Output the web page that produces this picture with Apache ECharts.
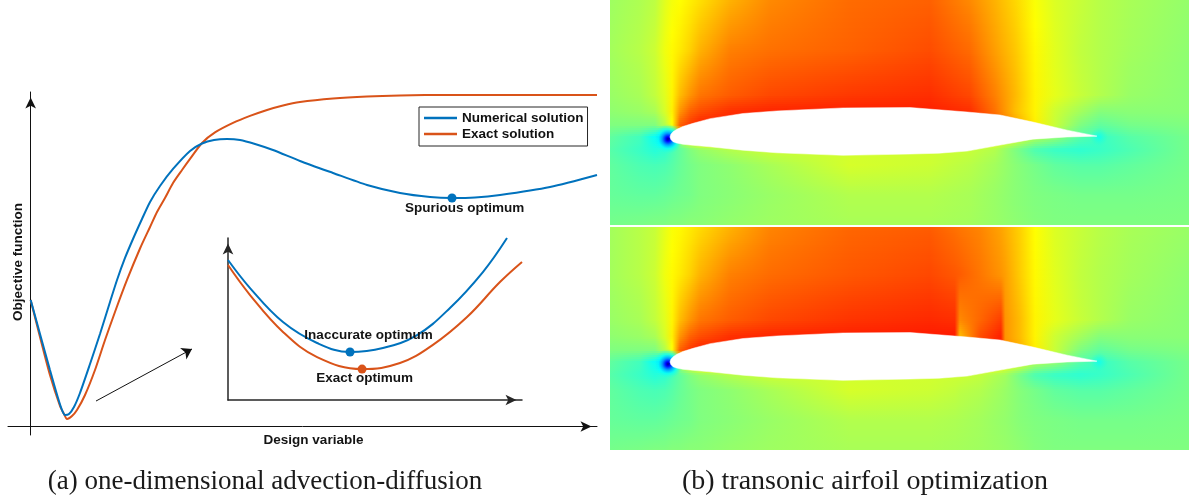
<!DOCTYPE html>
<html><head><meta charset="utf-8">
<script src="https://cdn.jsdelivr.net/npm/echarts@6/dist/echarts.min.js"></script>
<style>html,body{margin:0;padding:0;background:#fff}#c{width:1193px;height:500px}</style>
</head><body><div id="c"></div><script>
// ---------- (a) main curves (design variable vs objective) ----------
const numX = [0, 1.65, 3.41, 4.83, 5.54, 6.07, 6.77, 7.65, 8.71, 10.48, 12.24, 14.01, 15.25, 16.66, 18.07, 19.66, 21.08, 22.84, 25.14, 28.14, 30.26, 32.38, 34.67, 36.97, 39.62, 42.79, 47.56, 53.39, 59.39, 65.22, 70.52, 74.40, 78.46, 82.88, 91.71, 100];
const numY = [37.37, 27.33, 16.69, 8.42, 4.87, 3.40, 3.69, 5.76, 9.90, 18.46, 27.33, 36.78, 43.28, 49.78, 55.39, 61.30, 66.32, 71.05, 76.07, 81.39, 83.60, 84.64, 84.93, 84.64, 83.46, 81.68, 78.43, 74.89, 71.34, 68.98, 67.80, 67.50, 67.65, 68.39, 70.75, 74.30];
const exaX = [0, 1.65, 3.41, 5.18, 5.89, 6.42, 7.30, 8.18, 9.60, 11.36, 13.13, 14.89, 17.01, 19.31, 21.08, 22.31, 23.72, 25.14, 26.73, 28.14, 30.26, 32.55, 35.73, 38.73, 41.74, 44.56, 47.56, 53.39, 59.39, 65.22, 74.05, 82.88, 100];
const exaY = [37.37, 26.44, 15.21, 6.06, 3.69, 2.22, 3.10, 4.87, 9.31, 16.69, 25.55, 33.83, 43.28, 52.58, 58.94, 63.37, 67.50, 71.93, 75.77, 79.03, 83.75, 86.85, 89.66, 91.73, 93.50, 94.83, 95.86, 96.90, 97.49, 97.78, 97.93, 97.93, 97.93];
// inset (zoom on the first minimum)
const inNumX = [0, 7.5, 18.7, 30.3, 41.5, 52.7, 64.3, 75.5, 86.7, 94.9];
const inNumY = [86.4, 69.1, 48.1, 35.2, 29.6, 32.1, 40.1, 56.8, 79.0, 100];
const inExaX = [0, 7.5, 18.7, 30.3, 45.6, 58.5, 69.7, 81.3, 92.5, 100];
const inExaY = [83.3, 64.8, 42.0, 26.5, 19.1, 22.8, 34.0, 51.2, 72.8, 85.2];
const spuriousPt = [74.40, 67.50];
const inaccuratePt = [41.5, 29.6];
const exactPt = [45.6, 19.1];
const arrowPts = [[11.54, 7.53], [28.49, 22.90]];

// ---------- (b) airfoil geometry (% chord) ----------
const airUpX = [0, 0.2, 0.7, 1.5, 3.0, 5.4, 9.4, 17.1, 25.0, 40.5, 56.2, 69.6, 77.3, 85.0, 93.0, 100];
const airUpY = [0, 0.65, 1.2, 1.75, 2.45, 3.2, 4.3, 5.5, 6.1, 6.8, 6.9, 5.85, 5.15, 3.5, 1.6, 0.2];
const airLoX = [0, 0.2, 0.7, 1.5, 3.0, 5.4, 9.4, 17.1, 25.0, 40.5, 56.2, 63.0, 69.6, 77.3, 85.0, 93.0, 100];
const airLoY = [0, -0.6, -1.1, -1.4, -1.7, -1.95, -2.3, -3.1, -3.7, -4.3, -4.0, -3.8, -3.3, -1.9, -0.5, 0.0, 0.2];

// field samples (jet colormap value 0..1)
const topCols = [-14.05, -7.0, -3.5, -1.2, 0.5, 2.3, 4.7, 7.0, 14.1, 23.4, 42.2, 60.9, 70.3, 76.1, 80.8, 85.5, 90.2, 96.0, 100.7, 107.7, 121.55];
const topRows = [32.08, 20.4, 9.8, 5.9, 2.8, 0, -3.0, -6.6, -13.6, -20.61];
const topVals = [
 [.53,.545,.56,.595,.615,.625,.64,.655,.70,.74,.77,.78,.74,.70,.665,.62,.59,.57,.555,.54,.52],
 [.535,.555,.575,.61,.63,.645,.67,.70,.75,.765,.78,.80,.77,.72,.68,.63,.595,.565,.55,.535,.515],
 [.525,.54,.565,.595,.635,.69,.73,.76,.785,.805,.82,.83,.805,.75,.695,.635,.60,.57,.55,.525,.51],
 [.515,.525,.54,.585,.64,.73,.78,.80,.83,.84,.845,.845,.83,.765,.69,.635,.575,.535,.505,.51,.51],
 [.50,.50,.50,.55,.62,.78,.82,.845,.845,.845,.845,.845,.84,.80,.72,.64,.57,.50,.47,.49,.50],
 [.47,.44,.38,.30,.30,.55,.65,.70,.75,.75,.75,.75,.70,.65,.60,.55,.52,.46,.43,.46,.49],
 [.46,.43,.41,.42,.445,.47,.50,.52,.55,.575,.58,.58,.57,.55,.50,.45,.43,.42,.43,.45,.49],
 [.47,.45,.445,.45,.46,.475,.49,.50,.515,.54,.585,.575,.555,.535,.51,.49,.47,.46,.46,.47,.49],
 [.475,.47,.47,.475,.48,.485,.49,.50,.51,.525,.55,.55,.54,.525,.51,.50,.495,.49,.49,.49,.495],
 [.49,.495,.50,.50,.505,.505,.51,.51,.52,.53,.54,.54,.535,.525,.515,.505,.50,.50,.50,.50,.50]
];
const botCols = [-14.05, -7.0, -3.5, -1.2, 0.5, 2.3, 4.7, 7.0, 14.1, 23.4, 42.2, 60.9, 66.7, 67.9, 72.6, 77.5, 78.5, 82.0, 85.5, 90.2, 96.0, 100.7, 107.7, 121.55];
const botRows = [31.62, 20.4, 9.8, 5.9, 2.8, 0, -3.0, -6.6, -13.6, -20.61];
const botVals = [
 [.535,.555,.57,.60,.62,.63,.645,.66,.70,.745,.775,.785,.765,.76,.745,.715,.705,.67,.625,.59,.57,.555,.54,.525],
 [.535,.555,.575,.61,.63,.645,.67,.70,.75,.77,.79,.805,.79,.785,.76,.73,.72,.675,.63,.595,.565,.55,.535,.515],
 [.525,.54,.565,.595,.635,.69,.73,.76,.785,.805,.825,.835,.83,.74,.775,.815,.73,.69,.635,.60,.57,.55,.525,.51],
 [.515,.525,.54,.585,.64,.73,.78,.80,.83,.84,.845,.85,.85,.69,.80,.845,.73,.69,.635,.575,.535,.505,.51,.51],
 [.50,.50,.50,.55,.62,.78,.82,.845,.845,.845,.845,.85,.85,.70,.80,.845,.74,.70,.64,.57,.50,.47,.49,.50],
 [.47,.44,.38,.30,.30,.55,.65,.70,.75,.75,.75,.75,.72,.70,.68,.65,.63,.60,.55,.52,.46,.43,.46,.49],
 [.46,.43,.41,.42,.445,.47,.50,.52,.55,.575,.58,.58,.575,.575,.565,.54,.535,.49,.45,.43,.42,.43,.45,.49],
 [.47,.45,.445,.45,.46,.475,.49,.50,.515,.54,.585,.575,.565,.56,.55,.53,.525,.505,.49,.47,.46,.46,.47,.49],
 [.475,.47,.47,.475,.48,.485,.49,.50,.51,.525,.55,.55,.545,.543,.535,.522,.52,.507,.50,.495,.49,.49,.49,.495],
 [.49,.495,.50,.50,.505,.505,.51,.51,.52,.53,.54,.54,.537,.536,.532,.525,.523,.515,.505,.50,.50,.50,.50,.50]
];

// ---------- helpers ----------
const zip = (a, b) => a.map((v, i) => [v, b[i]]);
const BLUE = '#0072BD', ORANGE = '#D95319';
const FONT = 'Liberation Sans';
function jet(v) {
  const c = x => Math.max(0, Math.min(1, x));
  const r = c(1.5 - Math.abs(4 * v - 3)), g = c(1.5 - Math.abs(4 * v - 2)), b = c(1.5 - Math.abs(4 * v - 1));
  return 'rgb(' + Math.round(r * 255) + ',' + Math.round(g * 255) + ',' + Math.round(b * 255) + ')';
}
function fieldRender(cols, rows, vals) {
  return function (params, api) {
    const colPx = cols.map(c => api.coord([c, rows[0]])[0]);
    const rowPx = rows.map(r => api.coord([cols[0], r])[1]);
    const x0 = colPx[0], x1 = colPx[colPx.length - 1];
    const y0 = rowPx[0], y1 = rowPx[rowPx.length - 1];
    const children = [];
    const step = 2;
    for (let y = y0; y < y1; y += step) {
      const yc = Math.min(y + step / 2, y1);
      let k = 0;
      while (k < rowPx.length - 2 && rowPx[k + 1] < yc) k++;
      const t = (yc - rowPx[k]) / (rowPx[k + 1] - rowPx[k]);
      const stops = cols.map((c, i) => ({
        offset: (colPx[i] - x0) / (x1 - x0),
        color: jet(vals[k][i] * (1 - t) + vals[k + 1][i] * t)
      }));
      children.push({
        type: 'rect',
        shape: { x: x0, y: y, width: x1 - x0, height: Math.min(step + 0.7, y1 - y) },
        style: { fill: { type: 'linear', x: 0, y: 0, x2: 1, y2: 0, colorStops: stops } }
      });
    }
    const le = api.coord([0, 0]);
    children.push({
      type: 'circle', shape: { cx: le[0] - 2, cy: le[1] + 2, r: 15 },
      style: { fill: { type: 'radial', x: 0.5, y: 0.5, r: 0.5, colorStops: [
        { offset: 0, color: 'rgba(0,0,140,1)' }, { offset: 0.14, color: 'rgba(0,0,255,1)' },
        { offset: 0.38, color: 'rgba(0,150,255,0.95)' }, { offset: 0.65, color: 'rgba(0,255,255,0.6)' },
        { offset: 1, color: 'rgba(40,255,220,0)' }] } }
    });
    const te = api.coord([100, 0.2]);
    children.push({
      type: 'circle', shape: { cx: te[0] + 2, cy: te[1] + 1, r: 9 },
      style: { fill: { type: 'radial', x: 0.5, y: 0.5, r: 0.5, colorStops: [
        { offset: 0, color: 'rgba(20,255,235,1)' }, { offset: 1, color: 'rgba(40,255,210,0)' }] } }
    });
    return { type: 'group', children };
  };
}
function airfoilRender(params, api) {
  const pts = zip(airUpX, airUpY).concat(zip(airLoX, airLoY).reverse()).map(p => api.coord(p));
  return { type: 'polygon', shape: { points: pts }, style: { fill: '#ffffff', stroke: '#ffffff', lineWidth: 0.5 } };
}

const hiddenAxis = (gi, min, max) => ({ gridIndex: gi, type: 'value', min, max, show: false });
const arrowAxisLine = (color, width, onZero) => ({
  show: true, onZero, symbol: ['none', 'arrow'], symbolSize: [8, 11], symbolOffset: [0, -5.5],
  lineStyle: { color, width }
});
const plainAxis = (gi, min, max, line) => ({
  gridIndex: gi, type: 'value', min, max, axisLine: line,
  axisTick: { show: false }, axisLabel: { show: false }, splitLine: { show: false }
});
const labelStyle = { fontFamily: FONT, fontWeight: 'bold', fontSize: 13.5, color: '#141414' };

const chart = echarts.init(document.getElementById('c'), null, { renderer: 'canvas' });
chart.setOption({
  animation: false,
  backgroundColor: '#ffffff',
  grid: [
    { left: 8, top: 92, width: 589, height: 343, outerBoundsMode: 'none' },
    { left: 228, top: 238, width: 294, height: 162, outerBoundsMode: 'none' },
    { left: 610, top: 0, width: 579, height: 225, outerBoundsMode: 'none' },
    { left: 610, top: 227, width: 579, height: 223, outerBoundsMode: 'none' }
  ],
  xAxis: [
    plainAxis(0, -4, 100, arrowAxisLine('#111', 1, true)),
    plainAxis(1, 0, 100, arrowAxisLine('#262626', 1.5, false)),
    hiddenAxis(2, -14.05, 121.55),
    hiddenAxis(3, -14.05, 121.55)
  ],
  yAxis: [
    plainAxis(0, -2.5, 98.8, arrowAxisLine('#111', 1, true)),
    plainAxis(1, 0, 100, arrowAxisLine('#262626', 1.5, false)),
    hiddenAxis(2, -20.61, 32.08),
    hiddenAxis(3, -20.61, 31.62)
  ],
  legend: {
    data: ['Numerical solution', 'Exact solution'],
    orient: 'vertical', left: 419, top: 107,
    padding: [4, 4, 5, 5], itemGap: 2, itemWidth: 33, itemHeight: 2.5, icon: 'rect',
    borderColor: '#262626', borderWidth: 1, borderRadius: 0, backgroundColor: '#fff',
    textStyle: { fontFamily: FONT, fontWeight: 'bold', fontSize: 13.5, color: '#111', lineHeight: 14, padding: [0, 0, 0, 0] },
    selectedMode: false
  },
  series: [
    { name: 'Exact solution', type: 'line', xAxisIndex: 0, yAxisIndex: 0, data: zip(exaX, exaY), smooth: 0.25,
      showSymbol: false, symbol: 'none', lineStyle: { color: ORANGE, width: 2 }, itemStyle: { color: ORANGE }, z: 3 },
    { name: 'Numerical solution', type: 'line', xAxisIndex: 0, yAxisIndex: 0, data: zip(numX, numY), smooth: 0.25,
      showSymbol: false, symbol: 'none', lineStyle: { color: BLUE, width: 2 }, itemStyle: { color: BLUE }, z: 4 },
    { name: 'Exact (inset)', type: 'line', xAxisIndex: 1, yAxisIndex: 1, data: zip(inExaX, inExaY), smooth: 0.4,
      showSymbol: false, symbol: 'none', lineStyle: { color: ORANGE, width: 2 }, z: 3 },
    { name: 'Numerical (inset)', type: 'line', xAxisIndex: 1, yAxisIndex: 1, data: zip(inNumX, inNumY), smooth: 0.4,
      showSymbol: false, symbol: 'none', lineStyle: { color: BLUE, width: 2 }, z: 4 },
    { name: 'Spurious optimum', type: 'scatter', xAxisIndex: 0, yAxisIndex: 0, data: [spuriousPt], symbolSize: 9,
      itemStyle: { color: BLUE, opacity: 1 }, z: 6,
      label: { show: true, formatter: 'Spurious optimum', position: [17, 15], align: 'center', verticalAlign: 'middle', ...labelStyle } },
    { name: 'Inaccurate optimum', type: 'scatter', xAxisIndex: 1, yAxisIndex: 1, data: [inaccuratePt], symbolSize: 9,
      itemStyle: { color: BLUE, opacity: 1 }, z: 6,
      label: { show: true, formatter: 'Inaccurate optimum', position: [23, -12], align: 'center', verticalAlign: 'middle', ...labelStyle } },
    { name: 'Exact optimum', type: 'scatter', xAxisIndex: 1, yAxisIndex: 1, data: [exactPt], symbolSize: 9,
      itemStyle: { color: ORANGE, opacity: 1 }, z: 6,
      label: { show: true, formatter: 'Exact optimum', position: [7, 14], align: 'center', verticalAlign: 'middle', ...labelStyle } },
    { name: 'zoom arrow', type: 'lines', coordinateSystem: 'cartesian2d', xAxisIndex: 0, yAxisIndex: 0,
      data: [{ coords: arrowPts }], symbol: ['none', 'arrow'], symbolSize: 10,
      lineStyle: { color: '#111', width: 1, opacity: 1 }, z: 5 },
    { name: 'field top', type: 'custom', coordinateSystem: 'cartesian2d', xAxisIndex: 2, yAxisIndex: 2,
      data: [[0, 0]], renderItem: fieldRender(topCols, topRows, topVals), z: 1, silent: true },
    { name: 'field bottom', type: 'custom', coordinateSystem: 'cartesian2d', xAxisIndex: 3, yAxisIndex: 3,
      data: [[0, 0]], renderItem: fieldRender(botCols, botRows, botVals), z: 1, silent: true },
    { name: 'airfoil top', type: 'custom', coordinateSystem: 'cartesian2d', xAxisIndex: 2, yAxisIndex: 2,
      data: [[0, 0]], renderItem: airfoilRender, z: 2, silent: true },
    { name: 'airfoil bottom', type: 'custom', coordinateSystem: 'cartesian2d', xAxisIndex: 3, yAxisIndex: 3,
      data: [[0, 0]], renderItem: airfoilRender, z: 2, silent: true }
  ],
  graphic: [
    { type: 'text', x: 18, y: 262, rotation: Math.PI / 2,
      style: { text: 'Objective function', fontFamily: FONT, fontWeight: 'bold', fontSize: 13.5, fill: '#141414', align: 'center', verticalAlign: 'middle' } },
    { type: 'text', x: 313.5, y: 440,
      style: { text: 'Design variable', fontFamily: FONT, fontWeight: 'bold', fontSize: 13.5, fill: '#141414', align: 'center', verticalAlign: 'middle' } },
    { type: 'text', x: 265, y: 482,
      style: { text: '(a) one-dimensional advection-diffusion', fontFamily: 'Liberation Serif', fontSize: 27, fill: '#1a1a1a', align: 'center', verticalAlign: 'middle' } },
    { type: 'text', x: 865, y: 482,
      style: { text: '(b) transonic airfoil optimization', fontFamily: 'Liberation Serif', fontSize: 28, fill: '#1a1a1a', align: 'center', verticalAlign: 'middle' } }
  ]
});
</script></body></html>
